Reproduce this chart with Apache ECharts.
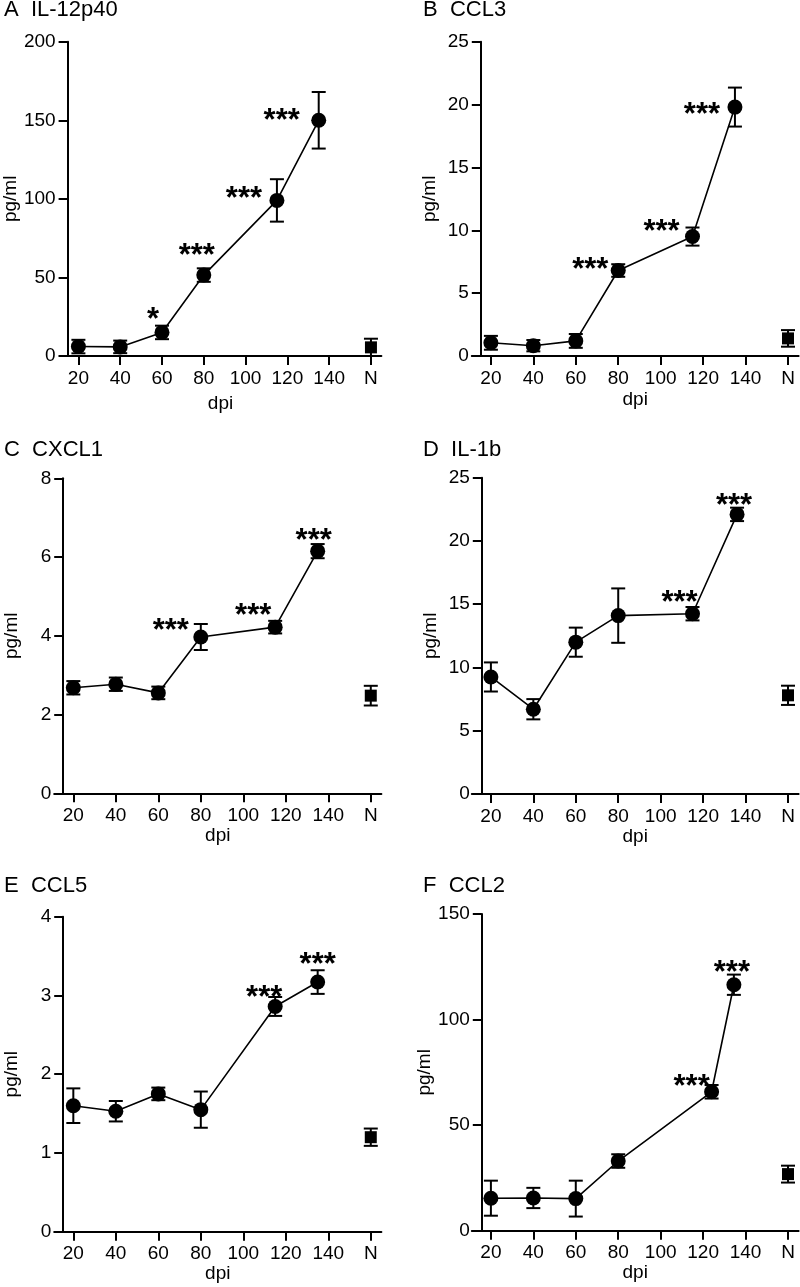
<!DOCTYPE html>
<html><head><meta charset="utf-8">
<script src="https://cdn.jsdelivr.net/npm/echarts@6/dist/echarts.min.js"></script>
<style>html,body{margin:0;padding:0;background:#fff}#c{width:800px;height:1287px}</style>
</head><body><div id="c"></div>
<script>
// ---------- DATA ----------
const titles = ['A  IL-12p40', 'B  CCL3', 'C  CXCL1', 'D  IL-1b', 'E  CCL5', 'F  CCL2'];
const xTickValues = [20, 40, 60, 80, 100, 120, 140, 160];
const xTickLabels = ['20', '40', '60', '80', '100', '120', '140', 'N'];
const normalX = 160;
const yMaxes = [200, 25, 8, 25, 4, 150];
const ySteps = [50, 5, 2, 5, 1, 50];

const daysA = [20, 40, 60, 80, 115, 135];
const meanA = [6, 5.8, 15, 51.5, 99, 150];
const errA = [4.3, 4, 4.3, 4.3, 13.5, 18];
const normMeanA = 5.5, normErrA = 5.5;
const sigA = ['', '', '*', '***', '***', '***'];

const daysB = [20, 40, 60, 80, 115, 135];
const meanB = [1.05, 0.82, 1.2, 6.8, 9.5, 19.8];
const errB = [0.55, 0.45, 0.55, 0.5, 0.72, 1.55];
const normMeanB = 1.4, normErrB = 0.66;
const sigB = ['', '', '', '***', '***', '***'];

const daysC = [20, 40, 60, 80, 115, 135];
const meanC = [2.68, 2.77, 2.55, 3.97, 4.22, 6.15];
const errC = [0.17, 0.17, 0.16, 0.33, 0.16, 0.18];
const normMeanC = 2.48, normErrC = 0.25;
const sigC = ['', '', '', '***', '***', '***'];

const daysD = [20, 40, 60, 80, 115, 136];
const meanD = [9.25, 6.7, 12, 14.1, 14.25, 22.1];
const errD = [1.15, 0.8, 1.15, 2.15, 0.53, 0.53];
const normMeanD = 7.8, normErrD = 0.76;
const sigD = ['', '', '', '', '***', '***'];

const daysE = [20, 40, 60, 80, 115, 135];
const meanE = [1.6, 1.53, 1.75, 1.55, 2.86, 3.17];
const errE = [0.22, 0.13, 0.08, 0.23, 0.12, 0.15];
const normMeanE = 1.2, normErrE = 0.11;
const sigE = ['', '', '', '', '***', '***'];

const daysF = [20, 40, 60, 80, 124, 134.5];
const meanF = [15.4, 15.5, 15.2, 33, 65.8, 116.5];
const errF = [8.3, 4.8, 8.5, 3.2, 3.2, 4.8];
const normMeanF = 26.8, normErrF = 4;
const sigF = ['', '', '', '', '***', '***'];

// ---------- LAYOUT / STYLE ----------
const FONT = 'Liberation Sans';
const grids = [
  {left: 54.2, top: 41.7, width: 327.2, height: 314.3},
  {left: 471.8, top: 41.7, width: 326.8, height: 314.3},
  {left: 54.2, top: 478.3, width: 327.2, height: 315},
  {left: 471.8, top: 477.7, width: 326.8, height: 316.3},
  {left: 54.2, top: 916.7, width: 327.2, height: 315},
  {left: 471.8, top: 914, width: 326.8, height: 316.7}
];
const yOffsets = [-8, -9, -9, -10, -9, -10];
const xNameGaps = [38, 34, 33, 32, 31, 33];
const titlePos = [[4, 10], [423, 10], [4, 450], [423, 450], [4, 886], [423, 886]];
// star label offsets (px, visual centre relative to point), only for significant points in order
const starOffsets = [
  [[-9, -20], [-7, -27], [-33, -9], [-37, -7]],
  [[-28, -8], [-31, -12], [-33, 0]],
  [[-30, -14], [-22, -19], [-4, -18]],
  [[-13, -18], [-3, -16]],
  [[-11, -16], [0, -25]],
  [[-20, -12], [-2, -19]]
];

const panelsData = [
  [daysA, meanA, errA, normMeanA, normErrA, sigA],
  [daysB, meanB, errB, normMeanB, normErrB, sigB],
  [daysC, meanC, errC, normMeanC, normErrC, sigC],
  [daysD, meanD, errD, normMeanD, normErrD, sigD],
  [daysE, meanE, errE, normMeanE, normErrE, sigE],
  [daysF, meanF, errF, normMeanF, normErrF, sigF]
];

function errRender(params, api) {
  const x = api.value(0), y = api.value(1), e = api.value(2);
  const top = api.coord([x, y + e]), bot = api.coord([x, y - e]);
  const hw = 7;
  const style = {stroke: '#000', lineWidth: 2};
  return {type: 'group', children: [
    {type: 'line', shape: {x1: top[0], y1: top[1], x2: bot[0], y2: bot[1]}, style: style},
    {type: 'line', shape: {x1: top[0] - hw, y1: top[1], x2: top[0] + hw, y2: top[1]}, style: style},
    {type: 'line', shape: {x1: bot[0] - hw, y1: bot[1], x2: bot[0] + hw, y2: bot[1]}, style: style}
  ]};
}
function makeStarRender(texts, offs) {
  return function (params, api) {
    const p = api.coord([api.value(0), api.value(1)]);
    const o = offs[params.dataIndex];
    return {type: 'text', x: p[0] + o[0], y: p[1] + o[1] + 8,
      style: {text: texts[params.dataIndex], font: 'bold 31px ' + FONT, fill: '#000',
        textAlign: 'center', textVerticalAlign: 'middle'}};
  };
}

const option = {
  animation: false,
  backgroundColor: '#fff',
  textStyle: {fontFamily: FONT},
  grid: [], xAxis: [], yAxis: [], series: [], graphic: []
};

panelsData.forEach(function (pd, i) {
  const days = pd[0], mean = pd[1], err = pd[2], nm = pd[3], ne = pd[4], sig = pd[5];
  option.grid.push(Object.assign({containLabel: false}, grids[i]));
  option.xAxis.push({
    type: 'value', gridIndex: i, min: 11, max: 165,
    name: 'dpi', nameLocation: 'middle', nameGap: xNameGaps[i],
    nameTextStyle: {fontFamily: FONT, fontSize: 19, color: '#000'},
    axisLine: {show: true, onZero: false, lineStyle: {color: '#000', width: 2}},
    axisTick: {show: true, length: 9, lineStyle: {color: '#000', width: 2}, customValues: xTickValues},
    axisLabel: {fontFamily: FONT, fontSize: 19, color: '#000', margin: 13, customValues: xTickValues,
      formatter: function (v) { const k = xTickValues.indexOf(v); return k >= 0 ? xTickLabels[k] : ''; }},
    splitLine: {show: false}
  });
  option.yAxis.push({
    type: 'value', gridIndex: i, min: 0, max: yMaxes[i], interval: ySteps[i], offset: yOffsets[i],
    name: 'pg/ml', nameLocation: 'middle', nameGap: 42,
    nameTextStyle: {fontFamily: FONT, fontSize: 19, color: '#000'},
    axisLine: {show: true, onZero: false, lineStyle: {color: '#000', width: 2}},
    axisTick: {show: true, length: 9, lineStyle: {color: '#000', width: 2}},
    axisLabel: {fontFamily: FONT, fontSize: 19, color: '#000', margin: 12},
    splitLine: {show: false}
  });
  const pts = days.map(function (d, k) { return [d, mean[k], err[k]]; });
  option.series.push({
    type: 'custom', xAxisIndex: i, yAxisIndex: i, renderItem: errRender,
    data: pts.concat([[normalX, nm, ne]]), z: 3, silent: true
  });
  option.series.push({
    type: 'line', xAxisIndex: i, yAxisIndex: i, data: pts.map(function (p) { return [p[0], p[1]]; }),
    symbol: 'circle', symbolSize: 15, itemStyle: {color: '#000', opacity: 1},
    lineStyle: {color: '#000', width: 1.6}, z: 4, silent: true
  });
  option.series.push({
    type: 'scatter', xAxisIndex: i, yAxisIndex: i, data: [[normalX, nm]],
    symbol: 'rect', symbolSize: 12, itemStyle: {color: '#000', opacity: 1}, z: 4, silent: true
  });
  const sd = [], st = [];
  days.forEach(function (d, k) { if (sig[k]) { sd.push([d, mean[k]]); st.push(sig[k]); } });
  option.series.push({
    type: 'custom', xAxisIndex: i, yAxisIndex: i, renderItem: makeStarRender(st, starOffsets[i]),
    data: sd, z: 5, silent: true, clip: false
  });
  option.graphic.push({
    type: 'text', x: titlePos[i][0], y: titlePos[i][1],
    style: {text: titles[i], font: '22px ' + FONT, fill: '#000', textVerticalAlign: 'middle'}
  });
});

const chart = echarts.init(document.getElementById('c'), null, {renderer: 'canvas'});
chart.setOption(option);
</script>
</body></html>
